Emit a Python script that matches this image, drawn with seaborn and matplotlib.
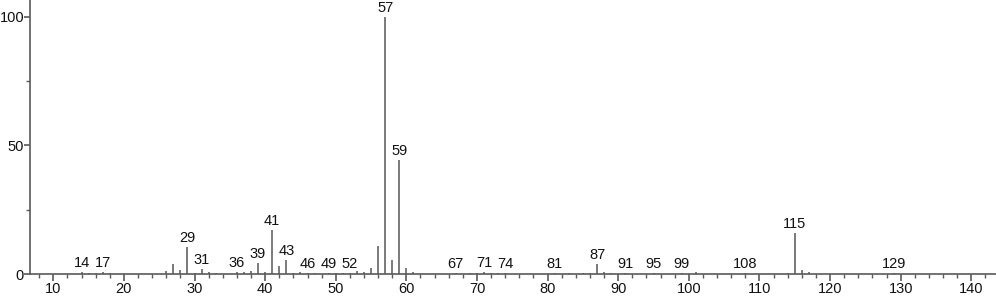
import numpy as np
import pandas as pd
import matplotlib
matplotlib.use("Agg")
import matplotlib.pyplot as plt
import seaborn as sns
from matplotlib.ticker import MultipleLocator

# m/z values and relative intensities
mz = [14, 15, 16, 17, 18,
      26, 27, 28, 29, 30, 31, 32, 33, 36, 37, 38, 39, 40, 41, 42, 43, 44, 45, 46, 47,
      49, 50, 51, 52, 53, 54, 55, 56, 57, 58, 59, 60, 61,
      67, 69, 70, 71, 72, 73, 74, 81, 83, 85, 86, 87, 88, 89, 91,
      95, 99, 101, 108, 114, 115, 116, 117, 129]
intensity = [0.8, 0.5, 0.3, 0.8, 0.5,
             1.0, 4.0, 1.5, 10.5, 0.4, 2.0, 0.6, 0.5, 0.6, 0.8, 1.0, 4.3, 0.8, 17.0, 3.0, 5.5, 0.5, 0.6, 0.5, 0.4,
             0.5, 0.4, 0.5, 0.5, 1.0, 0.7, 2.3, 11.0, 100.0, 5.5, 44.5, 2.3, 0.6,
             0.5, 0.4, 0.5, 0.8, 0.4, 0.4, 0.5, 0.5, 0.4, 0.4, 0.5, 4.0, 0.6, 0.4, 0.5,
             0.4, 0.5, 0.6, 0.4, 0.5, 16.0, 1.5, 0.8, 0.5]
labeled = [14, 17, 29, 31, 36, 39, 41, 43, 46, 49, 52, 57, 59, 67, 71, 74,
           81, 87, 91, 95, 99, 108, 115, 129]

df = pd.DataFrame({"mz": mz, "intensity": intensity})

sns.set_style("ticks")
plt.rcParams['font.family'] = ['Liberation Sans', 'DejaVu Sans']

fig = plt.figure(figsize=(9.96, 2.99), dpi=100)
ax = fig.add_axes([30 / 996, 25 / 299, 966 / 996, 274 / 299])

axis_col = "#5a5a5a"
peak_col = "#7a7a7a"

ax.vlines(df["mz"], 0, df["intensity"], color=peak_col, linewidth=1.4)

lookup = dict(zip(mz, intensity))
for m in labeled:
    ax.annotate(str(m), (m, lookup[m]), xytext=(0, 1.5), textcoords="offset points",
                ha="center", va="bottom", fontsize=10.5, color="#111111")

ax.set_xlim(6.7, 143.5)
ax.set_ylim(0, 106.6)
ax.xaxis.set_major_locator(MultipleLocator(10))
ax.xaxis.set_minor_locator(MultipleLocator(2))
ax.yaxis.set_major_locator(MultipleLocator(50))
ax.yaxis.set_minor_locator(MultipleLocator(25))

sns.despine(ax=ax, top=True, right=True)
for s in ["left", "bottom"]:
    ax.spines[s].set_color(axis_col)
    ax.spines[s].set_linewidth(1.2)

ax.tick_params(axis="x", which="major", direction="out", length=5, width=1.2,
               color=axis_col, labelsize=10.5, labelcolor="#111111", pad=1)
ax.tick_params(axis="y", which="major", direction="out", length=4, width=1.2,
               color=axis_col, labelsize=10.5, labelcolor="#111111", pad=0.3)
ax.tick_params(axis="both", which="minor", direction="out", length=3, width=1.0,
               color=axis_col)
ax.set_xlabel("")
ax.set_ylabel("")

fig.savefig("out.png", dpi=100)
